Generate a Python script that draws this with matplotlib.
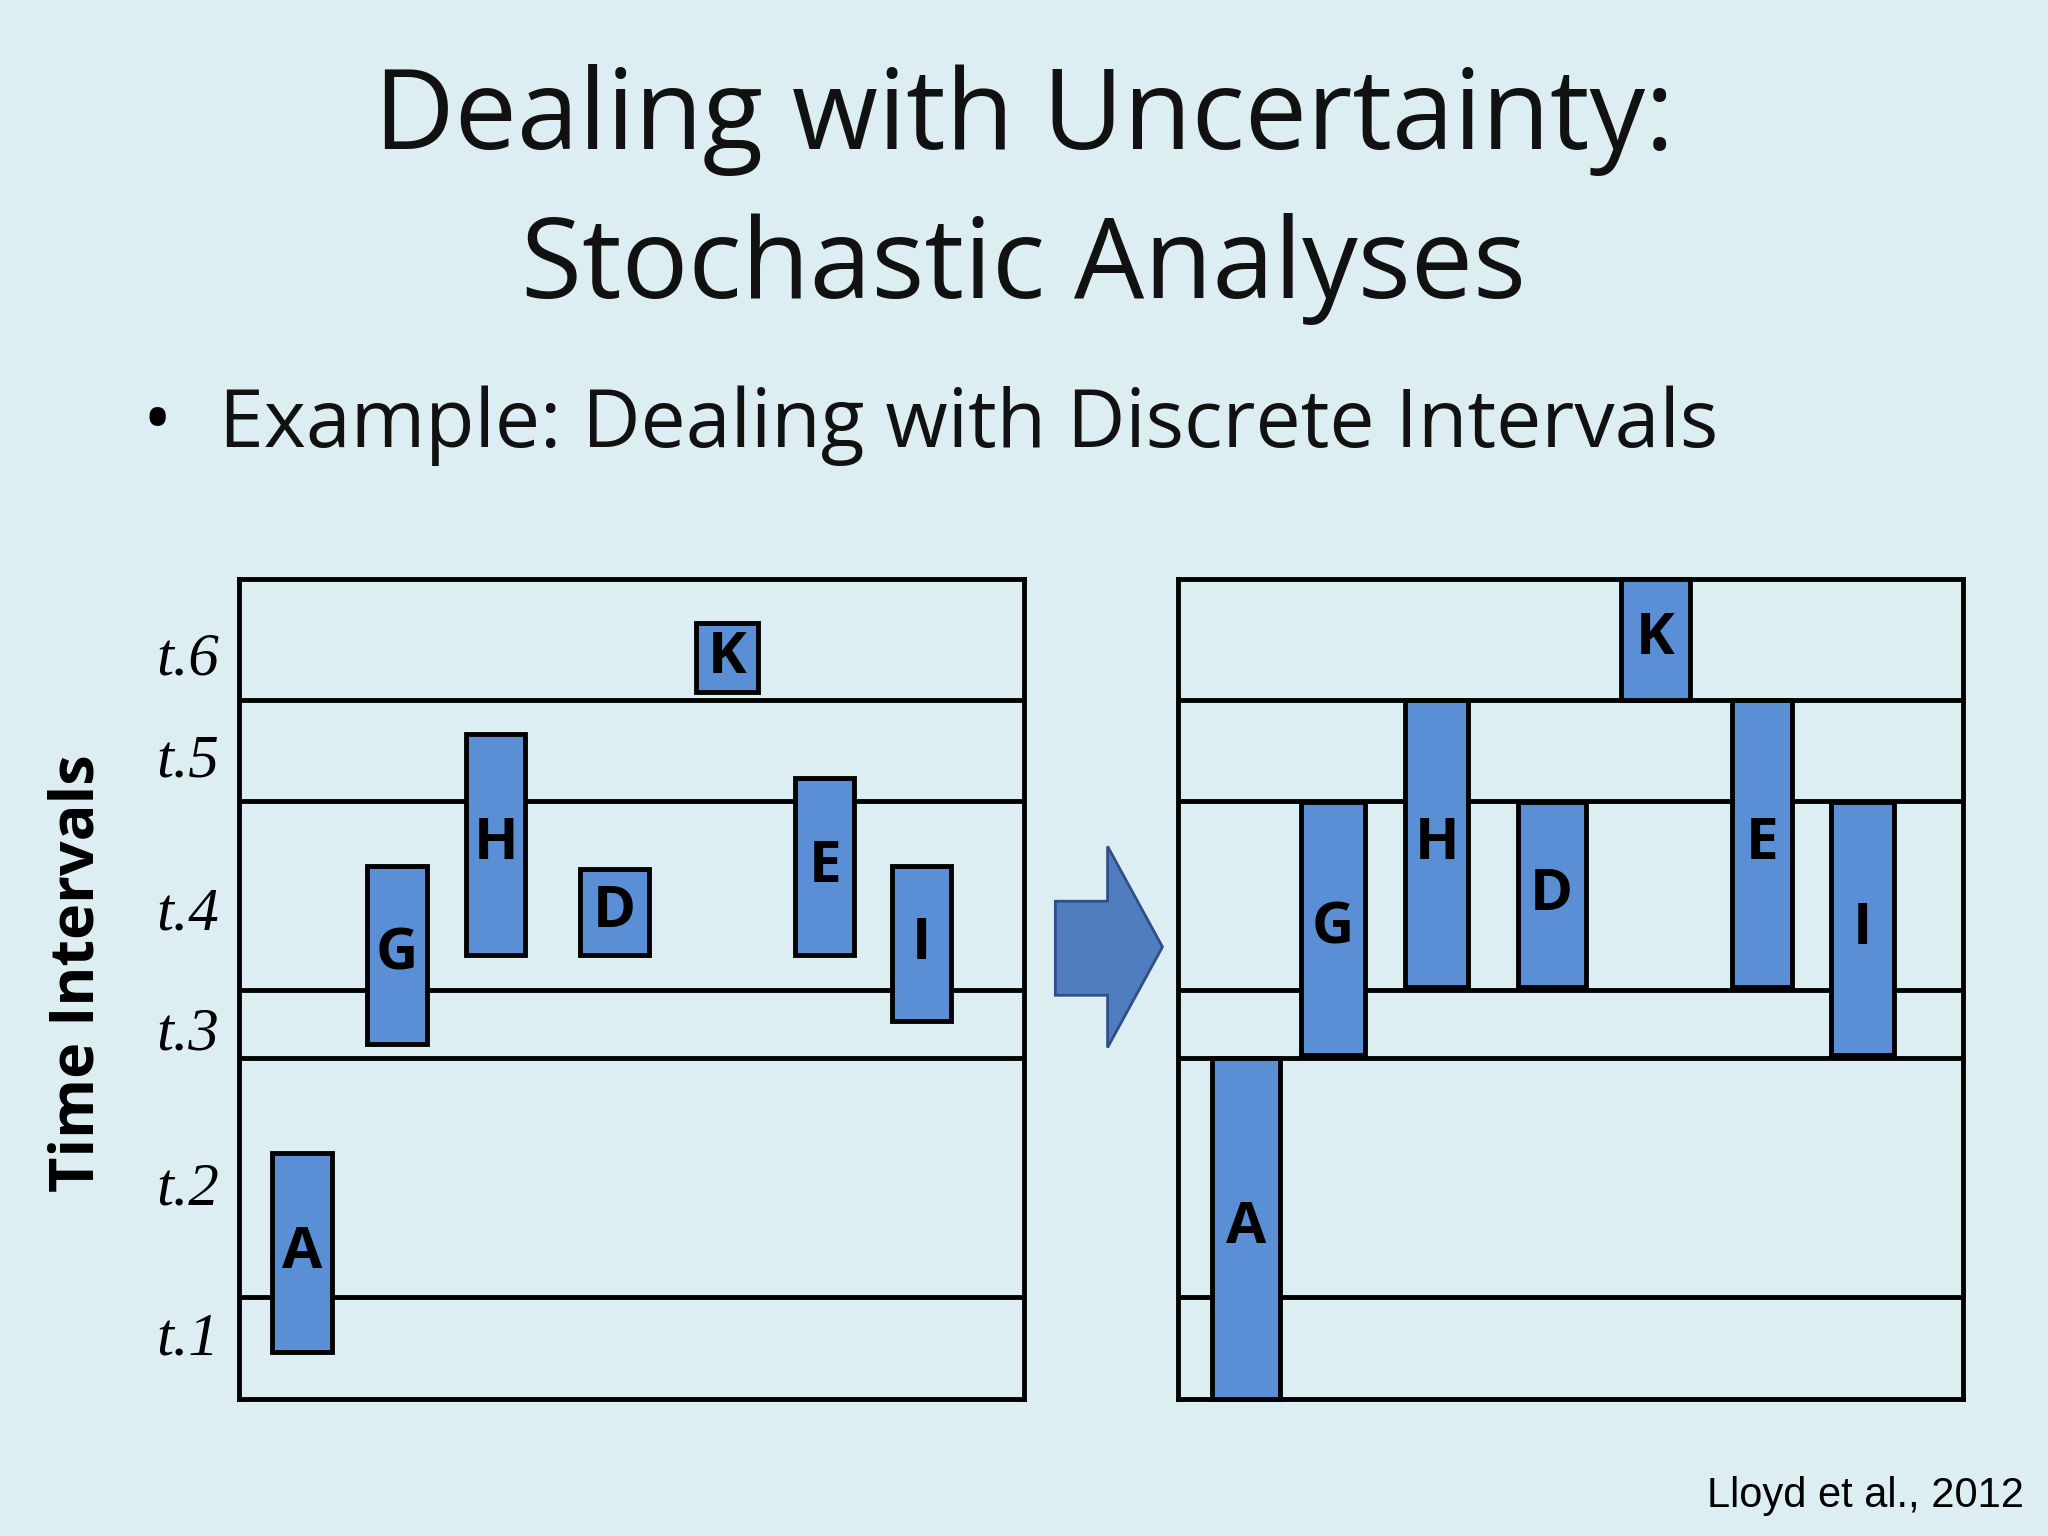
import matplotlib
matplotlib.use("Agg")
import matplotlib.pyplot as plt
from matplotlib.patches import Polygon

# ---- data ----
interval_labels = ["t.1", "t.2", "t.3", "t.4", "t.5", "t.6"]
interval_label_pos = [50, 165, 284, 376, 493, 571]
boundaries = [78, 261, 313, 458, 535]
panel_top = 628
panel_width = 601

bar_names = ["A", "G", "H", "D", "E", "I", "K"]
left_x0 = [25, 98, 174, 261, 426, 500, 350]
left_x1 = [71, 144, 219, 314, 471, 545, 397]
left_y0 = [36, 272, 340, 340, 340, 289, 541]
left_y1 = [188, 408, 509, 406, 475, 408, 594]

right_x0 = [26, 94, 174, 260, 424, 500, 339]
right_x1 = [78, 143, 222, 312, 470, 548, 392]
right_y0 = [0, 263, 315, 315, 315, 263, 535]
right_y1 = [261, 457, 535, 457, 535, 457, 628]

BG = "#DDEEF2"
BAR = "#5A8FD5"
W, H = 1568, 1176

fig = plt.figure(figsize=(20.48, 15.36), dpi=100, facecolor=BG)
base = fig.add_axes([0, 0, 1, 1])
base.set_xlim(0, W); base.set_ylim(H, 0); base.axis("off")

base.text(784, 92, "Dealing with Uncertainty:", ha="center", va="center",
          fontsize=80, family="Open Sans", color="#111111")
base.text(784, 206, "Stochastic Analyses", ha="center", va="center",
          fontsize=80, family="Open Sans", color="#111111")
base.text(120, 326, "•", ha="center", va="center", fontsize=56, family="Open Sans")
base.text(168, 326, "Example: Dealing with Discrete Intervals", ha="left", va="center",
          fontsize=58, family="Open Sans", color="#111111")
base.text(60, 745, "Time Intervals", rotation=90, ha="center", va="center",
          fontsize=44, family="Open Sans", fontweight="bold")
base.text(1550, 1145, "Lloyd et al., 2012", ha="right", va="center",
          fontsize=30, family="Liberation Sans")

arrow = Polygon([(808, 690), (848, 690), (848, 648), (890, 725), (848, 802),
                 (848, 762), (808, 762)], closed=True, facecolor="#4F7DC0",
                edgecolor="#2F4F86", lw=2)
base.add_patch(arrow)

def panel(x0px, x0s, x1s, y0s, y1s, ylabels):
    ax = fig.add_axes([x0px / W, 1 - 1071 / H, panel_width / W, panel_top / H])
    ax.set_xlim(0, panel_width); ax.set_ylim(0, panel_top)
    ax.set_facecolor(BG)
    for s in ax.spines.values():
        s.set_linewidth(3.5)
    for b in boundaries:
        ax.axhline(b, color="black", lw=3.5, zorder=1)
    ax.set_xticks([])
    if ylabels:
        ax.set_yticks(interval_label_pos)
        ax.set_yticklabels(interval_labels, family="Liberation Serif", style="italic",
                           fontsize=44)
        ax.tick_params(axis="y", length=0, pad=14)
    else:
        ax.set_yticks([])
    for n, a, b, c, d in zip(bar_names, x0s, x1s, y0s, y1s):
        ax.bar(a, d - c, width=b - a, bottom=c, align="edge", color=BAR,
               edgecolor="black", lw=3.5, zorder=3, clip_on=False)
        ax.text((a + b) / 2, (c + d) / 2, n, ha="center", va="center", fontsize=42,
                family="Open Sans", fontweight="bold", zorder=4)
    return ax

panel(183, left_x0, left_x1, left_y0, left_y1, True)
panel(902, right_x0, right_x1, right_y0, right_y1, False)

fig.savefig("out.png", dpi=100, facecolor=BG)
